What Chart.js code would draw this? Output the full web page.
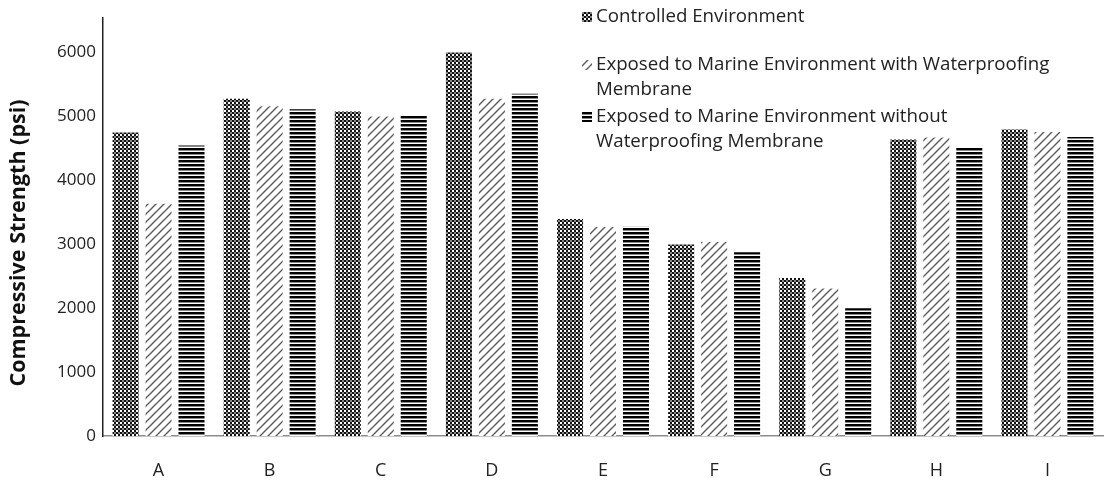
<!DOCTYPE html>
<html lang="en">
<head>
  <meta charset="UTF-8" />
  <title>Compressive Strength</title>
  <script src="https://cdn.jsdelivr.net/npm/chart.js"></script>
  <style>
    body { margin: 0; background: #fff; }
    #wrap { width: 1105px; height: 485px; }
  </style>
</head>
<body>
  <div id="wrap"><canvas id="strengthChart"></canvas></div>

  <script>
    // values (psi)
    const categories = ["A", "B", "C", "D", "E", "F", "G", "H", "I"];
    const controlled = [4740, 5270, 5070, 5990, 3390, 2990, 2470, 4630, 4790];
    const withMembrane = [3630, 5150, 4990, 5270, 3265, 3030, 2305, 4665, 4750];
    const withoutMembrane = [4540, 5105, 5000, 5345, 3270, 2870, 1995, 4510, 4670];
    const yTicks = [0, 1000, 2000, 3000, 4000, 5000, 6000];
    const yTitle = "Compressive Strength (psi)";
    const legendLines = [
      ["Controlled Environment"],
      ["Exposed to Marine Environment with Waterproofing", "Membrane"],
      ["Exposed to Marine Environment without", "Waterproofing Membrane"]
    ];

    const FONT = "'Open Sans', sans-serif";

    // fill patterns like the original print-friendly bars
    function makePattern(size, drawFn) {
      const c = document.createElement("canvas");
      c.width = size; c.height = size;
      const g = c.getContext("2d");
      g.fillStyle = "#fff";
      g.fillRect(0, 0, size, size);
      drawFn(g, size);
      return g.createPattern(c, "repeat");
    }

    const checker = makePattern(4, (g) => {
      g.fillStyle = "#111";
      g.fillRect(0, 0, 2, 2);
      g.fillRect(2, 2, 2, 2);
      g.fillStyle = "#888";
      g.fillRect(2, 0, 2, 2);
    });

    const diagonal = makePattern(8, (g, s) => {
      g.strokeStyle = "#5a5a5a";
      g.lineWidth = 1.4;
      g.beginPath();
      g.moveTo(0, s); g.lineTo(s, 0);
      g.moveTo(-s / 2, s / 2); g.lineTo(s / 2, -s / 2);
      g.moveTo(s / 2, s * 1.5); g.lineTo(s * 1.5, s / 2);
      g.stroke();
    });

    const horizontal = makePattern(4, (g) => {
      g.fillStyle = "#000";
      g.fillRect(0, 0, 4, 2);
      g.fillStyle = "#888";
      g.fillRect(0, 2, 4, 1);
    });

    const fills = [checker, diagonal, horizontal];

    // legend sits inside the plot, top right; axis title drawn by hand
    const overlayLegend = {
      id: "overlayLegend",
      afterDraw(chart) {
        const ctx = chart.ctx;
        const startY = [17, 65, 117];
        const lineH = 24.5;
        ctx.save();
        ctx.font = "18.7px " + FONT;
        ctx.textBaseline = "middle";
        legendLines.forEach((lines, i) => {
          ctx.fillStyle = fills[i];
          ctx.fillRect(582, startY[i] - 5, 10, 10);
          ctx.fillStyle = "#222";
          lines.forEach((txt, j) => {
            ctx.fillText(txt, 596, startY[i] + j * lineH);
          });
        });

        ctx.translate(19, 243);
        ctx.rotate(-Math.PI / 2);
        ctx.textAlign = "center";
        ctx.font = "bold 21.5px " + FONT;
        ctx.fillStyle = "#111";
        ctx.fillText(yTitle, 0, 0);
        ctx.restore();
      }
    };

    const ctx = document.getElementById("strengthChart").getContext("2d");
    const strengthChart = new Chart(ctx, {
      type: "bar",
      data: {
        labels: categories,
        datasets: [
          { label: legendLines[0].join(" "), data: controlled, backgroundColor: checker },
          { label: legendLines[1].join(" "), data: withMembrane, backgroundColor: diagonal },
          { label: legendLines[2].join(" "), data: withoutMembrane, backgroundColor: horizontal }
        ]
      },
      options: {
        responsive: true,
        maintainAspectRatio: false,
        animation: false,
        layout: { padding: { top: 18, right: 2, left: 0, bottom: 0 } },
        datasets: {
          bar: { categoryPercentage: 0.89, barPercentage: 0.79, borderWidth: 0 }
        },
        plugins: {
          legend: { display: false },
          tooltip: { enabled: false }
        },
        scales: {
          x: {
            grid: { display: false, drawTicks: false },
            border: { display: true, color: "#8c8c8c", width: 1.5 },
            ticks: { font: { family: FONT, size: 18 }, color: "#222", padding: 24 },
            afterFit: (scale) => { scale.height = 49; }
          },
          y: {
            min: 0,
            max: 6530,
            grid: { display: false, drawTicks: false },
            border: { display: true, color: "#222", width: 1.5 },
            afterBuildTicks: (scale) => {
              scale.ticks = yTicks.map(v => ({ value: v }));
            },
            ticks: {
              font: { family: FONT, size: 17 },
              color: "#222",
              padding: 7,
              callback: (v) => String(v)
            },
            afterFit: (scale) => { scale.width = 103; }
          }
        }
      },
      plugins: [overlayLegend]
    });
  </script>
</body>
</html>
